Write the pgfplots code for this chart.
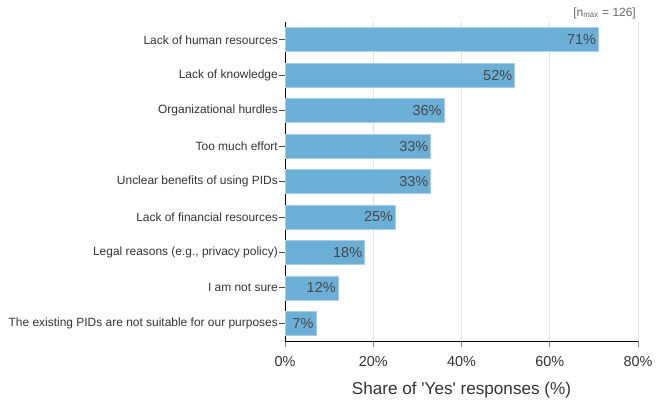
\documentclass[border=0pt]{standalone}
\usepackage{pgfplots}
\pgfplotsset{compat=1.18}
\usepackage{fontspec}
\setmainfont{Liberation Sans}
\definecolor{barc}{HTML}{6BAED6}
\definecolor{baredge}{HTML}{A9CFE6}
\definecolor{txt}{HTML}{333333}
\definecolor{grd}{HTML}{E3E3E3}
\begin{document}
\begin{tikzpicture}
\path[use as bounding box] (0,0) rectangle (661bp,405bp);
\begin{axis}[
  at={(285bp,64bp)}, anchor=south west,
  width=353bp, height=319bp, scale only axis,
  xbar, bar width=24bp,
  xmin=0, xmax=80,
  ymin=-0.5, ymax=8.5, y dir=reverse,
  axis x line*=bottom, axis y line*=left,
  axis line style={black, line width=0.8bp, -},
  xtick={0,20,40,60,80},
  xticklabels={0\%,20\%,40\%,60\%,80\%},
  ytick={0,...,8},
  yticklabels={Lack of human resources,Lack of knowledge,Organizational hurdles,Too much effort,Unclear benefits of using PIDs,Lack of financial resources,{Legal reasons (e.g., privacy policy)},I am not sure,The existing PIDs are not suitable for our purposes},
  tick align=outside, major tick length=5.5bp,
  x tick style={gray, line width=0.9bp},
  y tick style={black!70, line width=0.8bp},
  xmajorgrids, grid style={grd, line width=0.8bp},
  yticklabel style={font=\fontsize{12}{14}\selectfont, text=txt, inner xsep=1.5bp},
  xticklabel style={font=\fontsize{14.5}{16}\selectfont, text=txt, inner ysep=3bp, yshift=-7bp},
  xlabel={Share of \textquotesingle Yes\textquotesingle\ responses (\%)},
  xlabel style={font=\fontsize{17.2}{20}\selectfont, text=txt, yshift=-9bp},
  /pgf/number format/assume math mode=true,
  point meta=x,
  nodes near coords={\pgfmathprintnumber{\pgfplotspointmeta}\%},
  nodes near coords style={anchor=east, inner xsep=0.5bp, xshift=-1.5bp, font=\fontsize{14.5}{16}\selectfont, text=txt!90!white},
  clip=false,
]
\addplot[fill=barc, draw=baredge, line width=0.6bp] coordinates {
(71,0) (52,1) (36,2) (33,3) (33,4) (25,5) (18,6) (12,7) (7,8)};
\node[anchor=base east, inner sep=0, text=gray!80!black, font=\fontsize{12}{14}\selectfont, xshift=-2bp, yshift=6bp] at (rel axis cs:1,1) {[n\textsubscript{max} = 126]};
\end{axis}
\end{tikzpicture}
\end{document}
